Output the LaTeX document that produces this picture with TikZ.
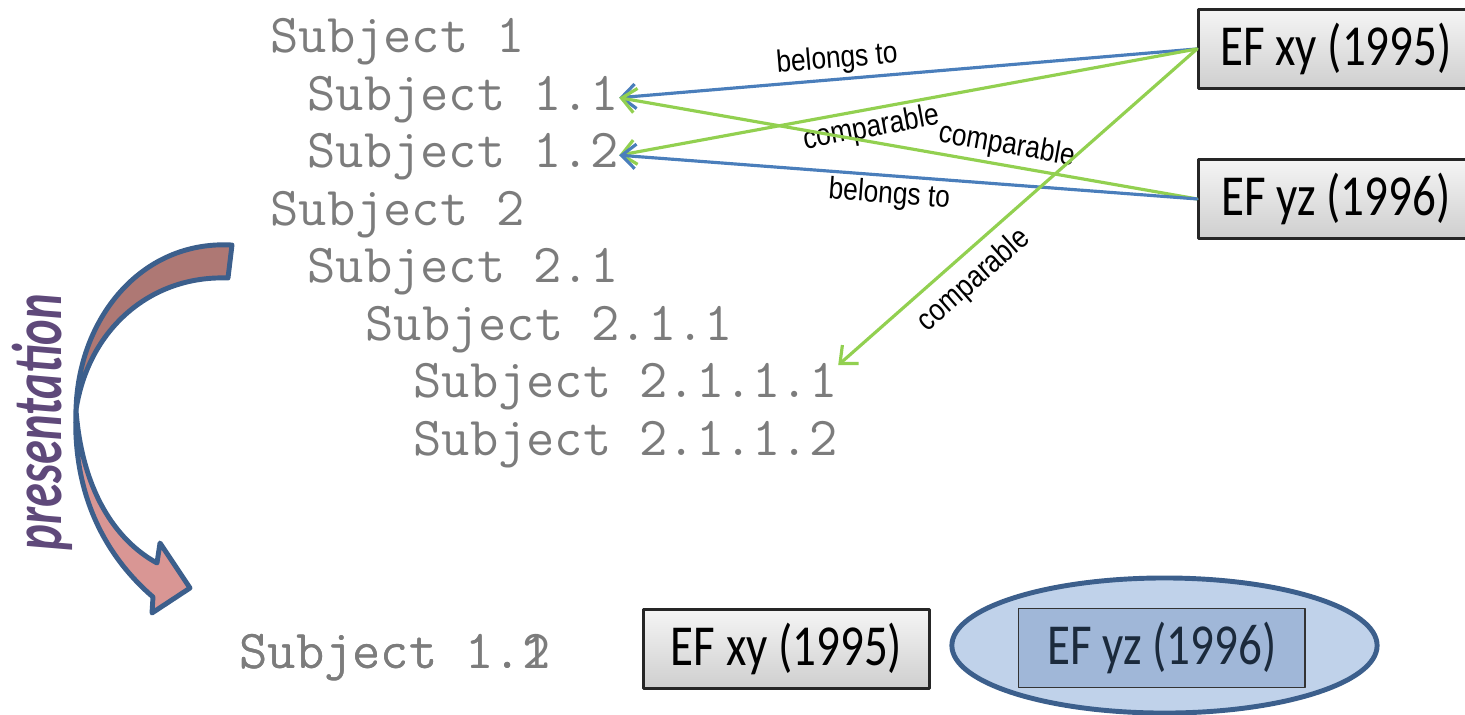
\documentclass[tikz,border=0pt]{standalone}
\usepackage{fontspec}
\usepackage{xcolor}
\usepackage{tikz}
\usetikzlibrary{arrows.meta,positioning,shapes.geometric}
\newfontfamily\boxfont[FakeStretch=0.81]{Carlito}
\newfontfamily\linkfont[FakeStretch=0.85]{Liberation Sans}
\newfontfamily\presfont{Carlito}
\definecolor{subjgray}{HTML}{7C7C7C}
\definecolor{linkblue}{HTML}{4A7EBB}
\definecolor{linkgreen}{HTML}{92D050}
\definecolor{arrowline}{HTML}{3C5F8C}
\definecolor{arrowdark}{HTML}{AE7874}
\definecolor{arrowlight}{HTML}{D99694}
\definecolor{prescolor}{HTML}{5F497A}
\definecolor{ovalfill}{HTML}{C0D2EA}
\definecolor{ovalbox}{HTML}{A0B7D8}
\definecolor{ovaltext}{HTML}{1B2A3C}
\tikzset{
  subj/.style={
    anchor=base west, inner sep=0pt,
    text height=9pt, text depth=2pt,
    text=subjgray, font=\ttfamily\fontsize{15.6}{18}\selectfont
  },
  boxframe/.style={
    draw=black!85, thick,
    minimum width=2.86cm, minimum height=0.79cm,
    font=\boxfont\fontsize{16.5}{18}\selectfont
  },
  efbox/.style={
    boxframe, top color=gray!8, bottom color=gray!38
  },
  belongs/.style={
    draw=linkblue, line width=0.9pt,
    -{Straight Barb[length=4pt,width=7pt]}
  },
  comp/.style={
    draw=linkgreen, line width=0.9pt,
    -{Straight Barb[length=4pt,width=7pt]}
  },
  linklbl/.style={
    sloped, inner sep=1pt,
    font=\linkfont\fontsize{8.8}{10}\selectfont
  }
}

\begin{document}
\begin{tikzpicture}[x=0.01cm, y=-0.01cm, line cap=round, line join=round]
  \useasboundingbox (0,0) rectangle (1465,714);

  % subject tree
  \node[subj] (s1)    at (270,52.5)  {Subject 1};
  \node[subj] (s11)   at (307,110)   {Subject 1.1};
  \node[subj] (s12)   at (307,167.5) {Subject 1.2};
  \node[subj] (s2)    at (270,225)   {Subject 2};
  \node[subj] (s21)   at (307,282.5) {Subject 2.1};
  \node[subj] (s211)  at (365,340)   {Subject 2.1.1};
  \node[subj] (s2111) at (413,397.5) {Subject 2.1.1.1};
  \node[subj] (s2112) at (413,455)   {Subject 2.1.1.2};

  % EF documents
  \node[efbox, minimum width=2.75cm, anchor=north west] (efxy) at (1197,8)   {EF xy (1995)};
  \node[efbox, minimum width=2.75cm, anchor=north west] (efyz) at (1197,158) {EF yz (1996)};

  \draw[belongs] (efxy.west) -- (s11.east)
    node[linklbl, pos=0.62, above] {belongs to};
  \draw[comp] (efxy.west) -- (s12.east)
    node[linklbl, pos=0.57, below] {comparable};
  \draw[comp] (efyz.west) -- (s11.east)
    node[linklbl, pos=0.335, above] {comparable};
  \draw[belongs] (efyz.west) -- (s12.east)
    node[linklbl, pos=0.53, below] {belongs to};
  \draw[comp] (efxy.west) -- (s2111.north east)
    node[linklbl, pos=0.67, below=2pt] {comparable};

  % curved presentation arrow
  \draw[arrowline, line width=1.4pt, fill=arrowdark]
    (232,245) -- (228,278) .. controls (150,275) and (88,330) .. (76,410)
    .. controls (78,320) and (140,240) .. (232,245) -- cycle;
  \draw[arrowline, line width=1.4pt, fill=arrowlight]
    (76,410) .. controls (72,500) and (110,560) .. (153,597)
    -- (152,613) -- (190,588) -- (160,543) -- (157,563)
    .. controls (115,540) and (82,490) .. (76,410) -- cycle;
  \node[rotate=90, yscale=1.45, text=prescolor, inner sep=0pt,
        font=\presfont\bfseries\itshape\fontsize{13.8}{16}\selectfont] (pres) at (42,422) {presentation};

  % presented result
  \node[subj] (sub11) at (239,668) {Subject 1.1};
  \node[subj] (sub12) at (239,668) {Subject 1.2};
  \node[efbox, anchor=north west] (efxyb) at (642,608) {EF xy (1995)};
  \node[ellipse, draw=arrowline, line width=1.4pt, fill=ovalfill,
        minimum width=4.25cm, minimum height=1.35cm] (oval) at (1164.5,645.5) {};
  \node[boxframe, draw=black!80, thin, fill=ovalbox, text=ovaltext,
        anchor=north west] (efyzb) at (1018,608) {EF yz (1996)};
\end{tikzpicture}
\end{document}
